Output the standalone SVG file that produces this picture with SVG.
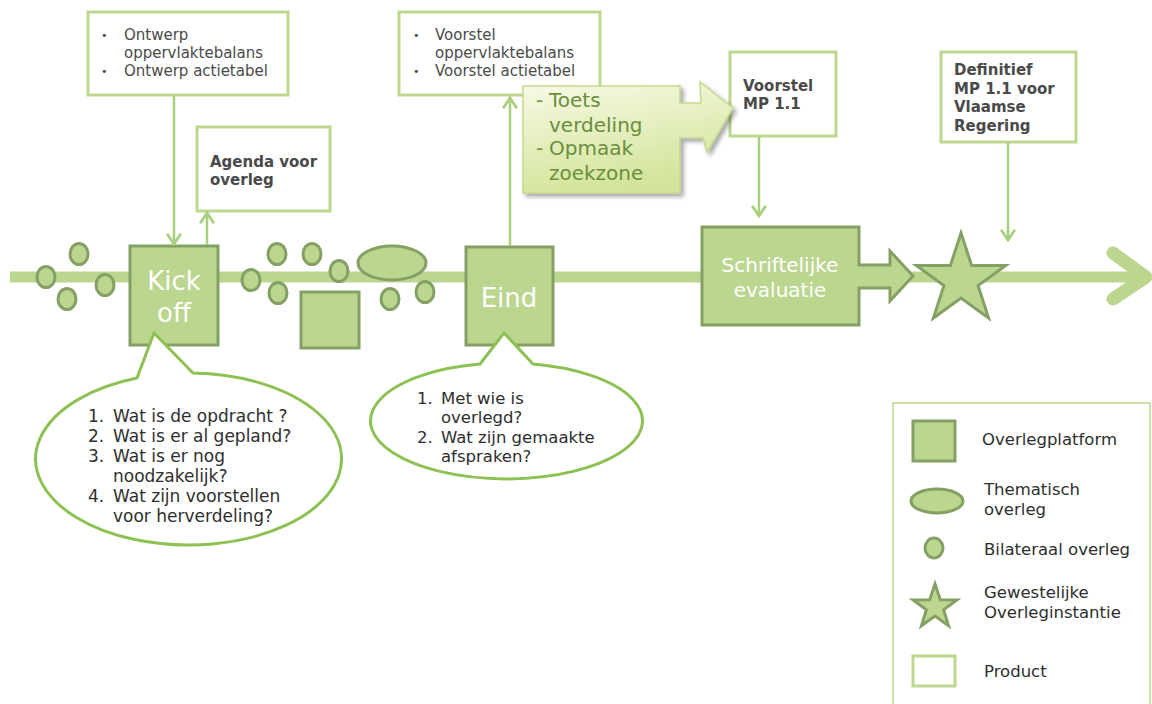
<svg xmlns="http://www.w3.org/2000/svg" width="1152" height="704" viewBox="0 0 1152 704">
<defs>
<style>
.plat{fill:#bbd68f;stroke:#84a064;stroke-width:3}
.prod{fill:#ffffff;stroke:#bcd88f;stroke-width:3}
.conn{fill:none;stroke:#a9d07e;stroke-width:2.5}
.bub{fill:#ffffff;stroke:#8dc153;stroke-width:3;stroke-linejoin:miter}
.t{font-family:"DejaVu Sans",Verdana,sans-serif;fill:#4a4a4a;font-size:15px}
.b{font-family:"DejaVu Sans",Verdana,sans-serif;fill:#4a4a4a;font-size:15px;font-weight:bold}
.q{font-family:"DejaVu Sans",Verdana,sans-serif;fill:#2e2e2e;font-size:16.5px}
.q1{font-family:"DejaVu Sans",Verdana,sans-serif;fill:#2e2e2e;font-size:17px}
.w{font-family:"DejaVu Sans",Verdana,sans-serif;fill:#ffffff;text-anchor:middle}
.g{font-family:"DejaVu Sans",Verdana,sans-serif;fill:#6a8e3c;font-size:20px}
.bul{font-family:"DejaVu Sans",Verdana,sans-serif;fill:#4a4a4a;font-size:11px}
</style>
<marker id="ah" markerUnits="userSpaceOnUse" markerWidth="14" markerHeight="16" viewBox="0 0 12 14" refX="10" refY="7" orient="auto">
<path d="M1,1 L10,7 L1,13" fill="none" stroke="#a9d07e" stroke-width="2.5"/>
</marker>
<linearGradient id="cg" x1="0" y1="0" x2="0.3" y2="1">
<stop offset="0" stop-color="#f7fae6"/>
<stop offset="1" stop-color="#d3e49a"/>
</linearGradient>
<filter id="sh" x="-10%" y="-10%" width="130%" height="130%">
<feDropShadow dx="3" dy="3" stdDeviation="2" flood-color="#000" flood-opacity="0.35"/>
</filter>
</defs>

<!-- timeline -->
<g id="timeline">
<line x1="10" y1="277" x2="1140" y2="277" stroke="#bbd68f" stroke-width="11"/>
<polyline points="1113,253 1146,277 1113,299" fill="none" stroke="#bbd68f" stroke-width="13" stroke-linecap="round" stroke-linejoin="round"/>
</g>

<!-- bilateral dots -->
<g id="bilateraal">
<ellipse class="plat" cx="46" cy="277" rx="9" ry="10.5"/>
<ellipse class="plat" cx="79" cy="254" rx="9" ry="10.5"/>
<ellipse class="plat" cx="67" cy="299" rx="9" ry="10.5"/>
<ellipse class="plat" cx="105" cy="285" rx="9" ry="10.5"/>
<ellipse class="plat" cx="251" cy="280" rx="9" ry="10.5"/>
<ellipse class="plat" cx="277" cy="254" rx="9" ry="10.5"/>
<ellipse class="plat" cx="278" cy="293" rx="9" ry="10.5"/>
<ellipse class="plat" cx="312" cy="254" rx="9" ry="10.5"/>
<ellipse class="plat" cx="339" cy="271" rx="9" ry="10.5"/>
<ellipse class="plat" cx="390" cy="299" rx="9" ry="10.5"/>
<ellipse class="plat" cx="425" cy="292" rx="9" ry="10.5"/>
</g>
<g id="thematisch"><ellipse class="plat" cx="392" cy="263" rx="34" ry="17"/></g>
<g id="platform-mid"><rect class="plat" x="301" y="292" width="58" height="56"/></g>

<g id="kickoff">
<rect class="plat" x="130" y="246" width="88" height="99"/>
<text class="w" x="174" y="290" font-size="26">Kick</text>
<text class="w" x="174" y="322" font-size="26">off</text>
</g>

<g id="eind">
<rect class="plat" x="466" y="247" width="87" height="98"/>
<text class="w" x="509" y="307" font-size="26">Eind</text>
</g>

<g id="evaluatie">
<path class="plat" d="M702,227 L859,227 L859,265 L890,265 L890,251 L913,276 L890,301 L890,288 L859,288 L859,325 L702,325 Z"/>
<text class="w" x="780" y="272" font-size="20">Schriftelijke</text>
<text class="w" x="780" y="297" font-size="20">evaluatie</text>
</g>

<g id="gewestelijk">
<polygon class="plat" points="961,233 971.6,265.4 1005.7,265.5 978.1,285.6 988.6,318 961,298 933.4,318 943.9,285.6 916.3,265.5 950.4,265.4"/>
</g>

<!-- products -->
<g id="product-ontwerp">
<rect class="prod" x="88" y="12" width="200" height="83"/>
<text class="bul" x="101" y="39">•</text>
<text class="t" x="124" y="40">Ontwerp</text>
<text class="t" x="124" y="58">oppervlaktebalans</text>
<text class="bul" x="101" y="75">•</text>
<text class="t" x="124" y="76">Ontwerp actietabel</text>
</g>

<g id="product-agenda">
<rect class="prod" x="197" y="127" width="133" height="84"/>
<text class="b" x="210" y="167">Agenda voor</text>
<text class="b" x="210" y="185">overleg</text>
</g>

<g id="product-voorstel">
<rect class="prod" x="399" y="12" width="201" height="83"/>
<text class="bul" x="413" y="39">•</text>
<text class="t" x="435" y="40">Voorstel</text>
<text class="t" x="435" y="58">oppervlaktebalans</text>
<text class="bul" x="413" y="75">•</text>
<text class="t" x="435" y="76">Voorstel actietabel</text>
</g>

<g id="product-mp">
<rect class="prod" x="730" y="52" width="106" height="84"/>
<text class="b" x="743" y="91">Voorstel</text>
<text class="b" x="743" y="109">MP 1.1</text>
</g>

<g id="product-definitief">
<rect class="prod" x="941" y="52" width="135" height="90"/>
<text class="b" x="954" y="75">Definitief</text>
<text class="b" x="954" y="94">MP 1.1 voor</text>
<text class="b" x="954" y="112">Vlaamse</text>
<text class="b" x="954" y="131">Regering</text>
</g>

<!-- connectors -->
<g id="connectors">
<line class="conn" x1="174" y1="96" x2="174" y2="244" marker-end="url(#ah)"/>
<line class="conn" x1="207" y1="245" x2="207" y2="213" marker-end="url(#ah)"/>
<line class="conn" x1="510" y1="246" x2="510" y2="98" marker-end="url(#ah)"/>
<line class="conn" x1="759" y1="137" x2="759" y2="216" marker-end="url(#ah)"/>
<line class="conn" x1="1008" y1="143" x2="1008" y2="240" marker-end="url(#ah)"/>
</g>

<!-- callout arrow -->
<g id="callout">
<path d="M523,86 L680,86 L680,103 L701,103 L700,82 L733,108 L707,152 L703,138 L680,138 L680,193 L523,193 Z" fill="url(#cg)" stroke="#c3d98e" stroke-width="1.5" filter="url(#sh)"/>
<text class="g" x="536" y="107">-</text>
<text class="g" x="549" y="107">Toets</text>
<text class="g" x="549" y="132">verdeling</text>
<text class="g" x="536" y="155">-</text>
<text class="g" x="549" y="155">Opmaak</text>
<text class="g" x="549" y="180">zoekzone</text>
</g>

<!-- speech bubbles -->
<g id="bubble-kickoff">
<path class="bub" d="M137,378 L154,333 L193,373 A153,86 0 1 1 137,378 Z"/>
<text class="q1" x="88" y="422">1.</text><text class="q1" x="113" y="422">Wat is de opdracht ?</text>
<text class="q1" x="88" y="442">2.</text><text class="q1" x="113" y="442">Wat is er al gepland?</text>
<text class="q1" x="88" y="462">3.</text><text class="q1" x="113" y="462">Wat is er nog</text>
<text class="q1" x="113" y="482">noodzakelijk?</text>
<text class="q1" x="88" y="502">4.</text><text class="q1" x="113" y="502">Wat zijn voorstellen</text>
<text class="q1" x="113" y="522">voor herverdeling?</text>
</g>

<g id="bubble-eind">
<path class="bub" d="M480,364 L504,333 L533,364 A136,58 0 1 1 480,364 Z"/>
<text class="q" x="417" y="404">1.</text><text class="q" x="441" y="404">Met wie is</text>
<text class="q" x="441" y="423">overlegd?</text>
<text class="q" x="417" y="443">2.</text><text class="q" x="441" y="443">Wat zijn gemaakte</text>
<text class="q" x="441" y="462">afspraken?</text>
</g>

<!-- legend -->
<g id="legend">
<rect x="893" y="403" width="257" height="320" fill="#ffffff" stroke="#bcd88f" stroke-width="1.5"/>
<rect class="plat" x="913" y="421" width="42" height="40"/>
<text class="q" x="982" y="445">Overlegplatform</text>
<ellipse class="plat" cx="937" cy="501" rx="26" ry="12"/>
<text class="q" x="984" y="495">Thematisch</text>
<text class="q" x="984" y="515">overleg</text>
<ellipse class="plat" cx="934" cy="548" rx="9" ry="10"/>
<text class="q" x="984" y="555">Bilateraal overleg</text>
<polygon class="plat" points="935,584 940.3,599.7 956.9,599.9 943.6,609.8 948.5,625.6 935,616 921.5,625.6 926.4,609.8 913.1,599.9 929.7,599.7"/>
<text class="q" x="984" y="598">Gewestelijke</text>
<text class="q" x="984" y="618">Overleginstantie</text>
<rect class="prod" x="913" y="656" width="42" height="30"/>
<text class="q" x="984" y="677">Product</text>
</g>
</svg>
